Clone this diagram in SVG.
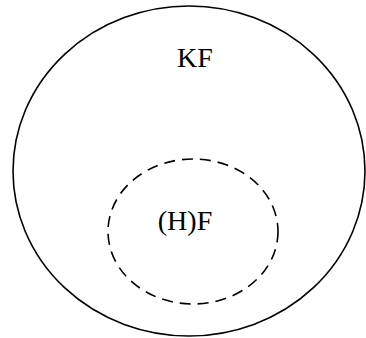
<svg xmlns="http://www.w3.org/2000/svg" width="366" height="338" viewBox="0 0 366 338">
<style>
.t{font-family:"Liberation Serif","Times New Roman",serif;font-size:28px;fill:#000;text-anchor:middle}
.o{fill:none;stroke:#000;stroke-width:1.6}
.d{fill:none;stroke:#000;stroke-width:1.6;stroke-dasharray:11,7}
</style>
<rect width="366" height="338" fill="#fff"/>
<g id="KF">
<ellipse class="o" cx="189" cy="171" rx="176" ry="165"/>
<text class="t" x="195" y="67">KF</text>
</g>
<g id="HF">
<ellipse class="d" cx="193" cy="231.5" rx="85" ry="72.5"/>
<text class="t" x="185" y="230">(H)F</text>
</g>
<g id="connectors"/>
</svg>
